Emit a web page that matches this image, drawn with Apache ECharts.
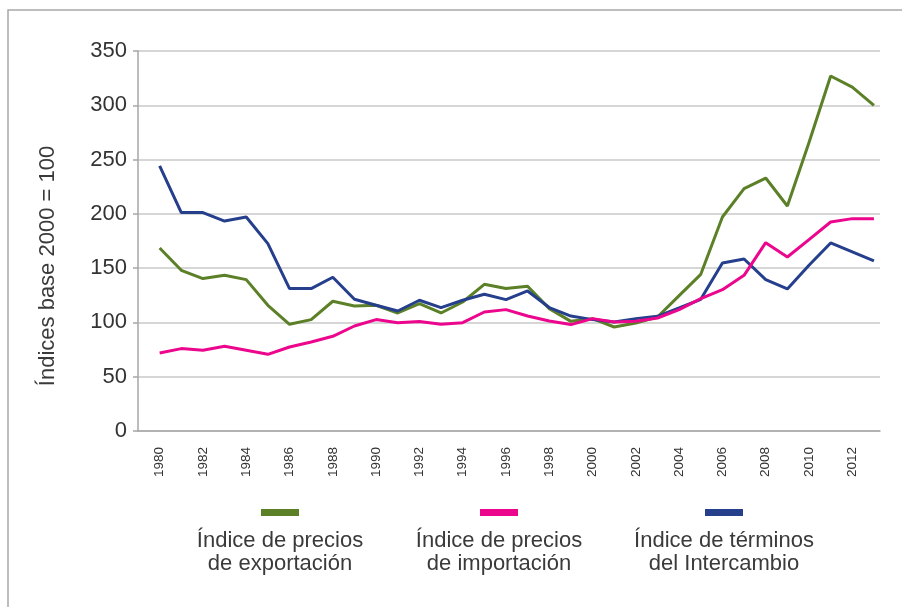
<!DOCTYPE html>
<html>
<head>
<meta charset="utf-8">
<script src="https://cdn.jsdelivr.net/npm/echarts@6/dist/echarts.min.js"></script>
<style>
  html, body { margin: 0; padding: 0; background: #fff; }
  #chart { width: 902px; height: 607px; }
</style>
</head>
<body>
<div id="chart"></div>
<script>
const years = [1980,1981,1982,1983,1984,1985,1986,1987,1988,1989,1990,1991,1992,1993,1994,1995,1996,1997,1998,1999,2000,2001,2002,2003,2004,2005,2006,2007,2008,2009,2010,2011,2012,2013];
const exportIdx = [168.6,148,140.4,143.4,139.4,115.8,98.3,102.6,119.5,115.2,115.8,108.7,117.3,108.7,118.8,135.1,131.2,133.3,112.7,101,103.5,95.8,99.5,105,124.7,144.3,197.1,223.3,233,207.2,265.7,327,316.8,300];
const importIdx = [71.8,75.9,74.3,78,74.3,70.6,77.4,82,87.2,96.7,102.6,99.8,100.8,98.3,99.8,109.6,111.8,105.9,101.3,98,103.5,100.4,101,104.1,111.8,122,130.2,143.4,173.5,160.3,176.3,192.5,195.6,195.6];
const termsIdx = [244.1,201.2,201.2,193.4,197.1,172.6,131.2,131.2,141.6,121.3,115.8,110.5,120.4,113.7,120.4,125.9,121,129,113.7,105.9,102.6,100.4,103.5,105.6,113.3,121.3,154.7,158.4,139.4,130.8,152.6,173.2,164.9,156.6];
const seriesNames = ['Índice de precios\nde exportación', 'Índice de precios\nde importación', 'Índice de términos\ndel Intercambio'];
const yTicks = [0,50,100,150,200,250,300,350];
const yTitle = 'Índices base 2000 = 100';

const colors = ['#5b8027', '#ec068d', '#263f8d'];
const FONT = "'Liberation Sans', Arial, Helvetica, sans-serif";

function pairs(vals) { return years.map((y, i) => [y, vals[i]]); }

const chart = echarts.init(document.getElementById('chart'), null, { renderer: 'canvas' });

const legendX = [280, 499, 724];
const graphic = [
  { type: 'rect', shape: { x: 8, y: 10, width: 1000, height: 1000 }, style: { fill: 'none', stroke: '#a8a8a8', lineWidth: 1.5 }, silent: true },
  { type: 'text', x: 48, y: 266, rotation: Math.PI / 2,
    style: { text: yTitle, x: 0, y: 0, fill: '#3a3a3a', fontSize: 22, fontFamily: FONT, align: 'center', verticalAlign: 'middle' } }
];
seriesNames.forEach((n, i) => {
  graphic.push({ type: 'rect', shape: { x: legendX[i] - 19, y: 509, width: 38, height: 7 }, style: { fill: colors[i] } });
  graphic.push({ type: 'text', x: legendX[i], y: 529,
    style: { text: n, x: 0, y: 0, fill: '#3a3a3a', fontSize: 22, lineHeight: 23, fontFamily: FONT, align: 'center', verticalAlign: 'top' } });
});

chart.setOption({
  animation: false,
  backgroundColor: '#ffffff',
  grid: { left: 138, right: 22, top: 51, bottom: 176, containLabel: false },
  xAxis: {
    type: 'value', min: 1979, max: 2013.28, interval: 1,
    axisLine: { show: true, lineStyle: { color: '#a6a6a6', width: 1.5 } },
    axisTick: { show: false },
    splitLine: { show: false },
    axisLabel: {
      rotate: 90, margin: 16, fontSize: 13.5, color: '#333', fontFamily: FONT,
      padding: [0, 0, 8, 0],
      formatter: v => (Number.isInteger(v) && v % 2 === 0 && v >= 1980 && v <= 2012) ? String(v) : ''
    }
  },
  yAxis: {
    type: 'value', min: yTicks[0], max: yTicks[yTicks.length - 1], interval: 50,
    axisLine: { show: true, lineStyle: { color: '#a6a6a6', width: 1.5 } },
    axisTick: { show: true, inside: false, length: 5, lineStyle: { color: '#a6a6a6', width: 1.5 } },
    splitLine: { show: true, lineStyle: { color: '#c8c8c8', width: 1.5 } },
    axisLabel: { margin: 11, fontSize: 22, color: '#333', fontFamily: FONT }
  },
  graphic: graphic,
  series: [
    { name: seriesNames[0], type: 'line', data: pairs(exportIdx), showSymbol: false, symbol: 'none', lineStyle: { color: colors[0], width: 3 }, itemStyle: { color: colors[0] }, z: 2 },
    { name: seriesNames[2], type: 'line', data: pairs(termsIdx), showSymbol: false, symbol: 'none', lineStyle: { color: colors[2], width: 3 }, itemStyle: { color: colors[2] }, z: 3 },
    { name: seriesNames[1], type: 'line', data: pairs(importIdx), showSymbol: false, symbol: 'none', lineStyle: { color: colors[1], width: 3 }, itemStyle: { color: colors[1] }, z: 4 }
  ]
});
</script>
</body>
</html>
